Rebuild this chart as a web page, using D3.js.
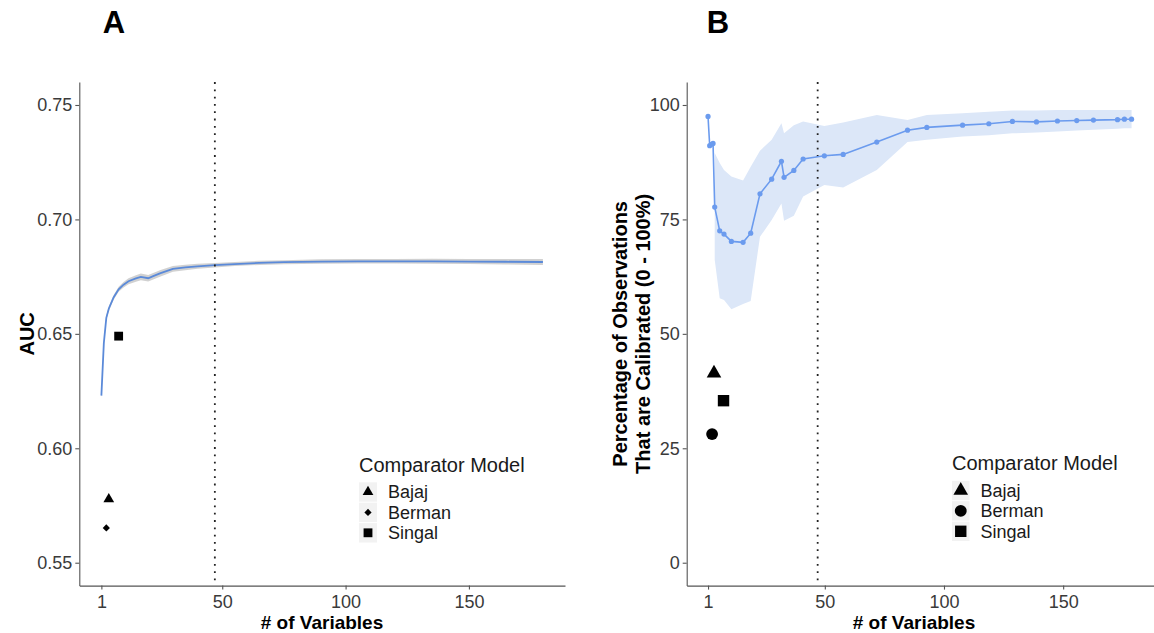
<!DOCTYPE html>
<html>
<head>
<meta charset="utf-8">
<script src="https://cdnjs.cloudflare.com/ajax/libs/d3/7.8.5/d3.min.js"></script>
<style>
	body { margin: 0; background: #ffffff; }
	text { font-family: 'Liberation Sans', Arial, sans-serif; }
</style>
</head>
<body>
<div id="chartContainer"></div>
<script>
// Panel A: AUC by number of variables
var auc_x = [1, 2, 3, 4, 6, 8, 10, 12, 15, 17, 20, 22, 25, 30, 35, 40, 47, 55, 65, 75, 90, 105, 120, 135, 150, 165, 180];
var auc_mean = [0.623, 0.646, 0.657, 0.661, 0.666, 0.6695, 0.6715, 0.673, 0.6742, 0.6749, 0.6743, 0.6752, 0.6765, 0.6784, 0.679, 0.6795, 0.68, 0.6805, 0.681, 0.6813, 0.6816, 0.6817, 0.6817, 0.6817, 0.6816, 0.6815, 0.6814];
var auc_lower = [0.622, 0.645, 0.656, 0.660, 0.665, 0.6684, 0.6703, 0.6717, 0.6728, 0.6734, 0.6729, 0.6738, 0.6751, 0.6771, 0.6778, 0.6784, 0.679, 0.6796, 0.6801, 0.6804, 0.6806, 0.6807, 0.6807, 0.6806, 0.6805, 0.6803, 0.6801];
var auc_upper = [0.624, 0.647, 0.658, 0.662, 0.667, 0.6706, 0.6727, 0.6743, 0.6756, 0.6764, 0.6757, 0.6766, 0.6779, 0.6797, 0.6802, 0.6806, 0.681, 0.6814, 0.6819, 0.6822, 0.6826, 0.6827, 0.6827, 0.6828, 0.6827, 0.6827, 0.6827];

// Panel B: calibrated percentage by number of variables
var cal_x = [1, 1.7, 2.4, 3.1, 3.8, 5.9, 7.7, 10.8, 15.7, 18.9, 22.8, 27.7, 31.8, 32.9, 37, 40.9, 49.8, 57.7, 71.8, 84.7, 92.8, 107.8, 118.8, 128.7, 138.8, 147.6, 155.7, 162.7, 172.8, 175.7, 178.7];
var cal_mean = [97.5, 91.1, 91.4, 91.6, 77.7, 72.5, 71.8, 70.2, 70.0, 72.0, 80.6, 83.8, 87.7, 84.2, 85.7, 88.2, 88.9, 89.2, 91.9, 94.5, 95.1, 95.6, 95.9, 96.4, 96.3, 96.5, 96.6, 96.7, 96.8, 96.9, 96.9];
var cal_lower = [null, null, null, null, 66.2, 57.8, 57.4, 55.4, 56.5, 57.2, 71.2, 74.9, 78.5, 74.7, 75.8, 80.0, 82.5, 82.0, 85.8, 91.9, 92.4, 93.1, 93.4, 93.8, 94.0, 94.2, 94.4, 94.6, 94.8, 94.9, 94.9];
var cal_upper = [null, null, null, null, 89.5, 87.3, 85.8, 84.4, 83.5, 86.5, 90.0, 92.4, 96.0, 93.8, 95.6, 96.4, 95.4, 96.2, 97.8, 96.7, 97.8, 98.2, 98.5, 98.8, 98.8, 98.9, 98.9, 98.9, 98.9, 98.9, 98.9];

// Comparator models
var comp_names = ['Bajaj', 'Berman', 'Singal'];
var comp_auc_x = [4, 3, 8];
var comp_auc = [0.5778, 0.5652, 0.6490];
var comp_cal_x = [3.5, 2.7, 7.5];
var comp_cal = [41.4, 28.1, 35.4];

var cutoff = 47;
var x_ticks = [1, 50, 100, 150];
var auc_ticks = [0.55, 0.60, 0.65, 0.70, 0.75];
var cal_ticks = [0, 25, 50, 75, 100];

var total_width = 1154;
var total_height = 633;
var plot_top = 82.1;
var plot_bottom = 585.6;

var svg = d3.select('#chartContainer')
	.append('svg')
	.attr('width', total_width)
	.attr('height', total_height);

svg.append('rect')
	.attr('width', total_width)
	.attr('height', total_height)
	.attr('fill', '#ffffff');

// Scales (ggplot style 5% expansion around 1..180)
var x_a = d3.scaleLinear().domain([-7.95, 188.95]).range([79.3, 565]);
var y_a = d3.scaleLinear().domain([0.54, 0.76]).range([plot_bottom, plot_top]);
var x_b = d3.scaleLinear().domain([-7.95, 188.95]).range([686.7, 1156]);
var y_b = d3.scaleLinear().domain([-5, 105]).range([plot_bottom, plot_top]);

function draw_axes(x_scale, y_scale, y_ticks, y_format) {
	var gx = svg.append('g')
		.attr('transform', 'translate(0,' + plot_bottom + ')')
		.call(d3.axisBottom(x_scale).tickValues(x_ticks).tickSize(4).tickSizeOuter(0).tickPadding(6));
	var gy = svg.append('g')
		.attr('transform', 'translate(' + x_scale.range()[0] + ',0)')
		.call(d3.axisLeft(y_scale).tickValues(y_ticks).tickFormat(y_format).tickSize(4).tickSizeOuter(0).tickPadding(3));
	[gx, gy].forEach(function(g) {
		g.select('.domain').attr('stroke', '#555555').attr('stroke-width', 1.1);
		g.selectAll('.tick line').attr('stroke', '#555555').attr('stroke-width', 1.1);
		g.selectAll('.tick text')
			.attr('fill', '#3a3a3a')
			.attr('font-size', '18px')
			.attr('font-family', "'Liberation Sans', Arial, sans-serif");
	});
}

function draw_cutoff(x_scale) {
	svg.append('line')
		.attr('x1', x_scale(cutoff))
		.attr('x2', x_scale(cutoff))
		.attr('y1', plot_top)
		.attr('y2', plot_bottom)
		.attr('stroke', '#222222')
		.attr('stroke-width', 1.8)
		.attr('stroke-dasharray', '1.8,5.5');
}

function symbol_path(name, panel) {
	var i = comp_names.indexOf(name);
	if (panel == 'A') {
		if (i == 0) return d3.symbol(d3.symbolTriangle, 50)();
		if (i == 1) return d3.symbol(d3.symbolSquare, 26)();
		return d3.symbol(d3.symbolSquare, 78)();
	} else {
		if (i == 0) return d3.symbol(d3.symbolTriangle, 92)();
		if (i == 1) return d3.symbol(d3.symbolCircle, 110)();
		return d3.symbol(d3.symbolSquare, 130)();
	}
}

function symbol_rotate(name, panel) {
	return (panel == 'A' && name == 'Berman') ? ' rotate(45)' : '';
}

function draw_legend(x0, title_y, row_h, key_w, panel) {
	var lg = svg.append('g');
	lg.append('text')
		.attr('x', x0)
		.attr('y', title_y)
		.attr('font-size', '20px')
		.attr('fill', '#1a1a1a')
		.text('Comparator Model');
	var first = title_y + 20.5;
	lg.selectAll('.keyrect')
		.data(comp_names)
		.enter()
		.append('rect')
		.attr('x', x0)
		.attr('y', function(d, i) { return first + i * row_h - row_h / 2 + 0.5; })
		.attr('width', key_w)
		.attr('height', row_h - 1)
		.attr('fill', '#f2f2f2');
	lg.selectAll('.keysym')
		.data(comp_names)
		.enter()
		.append('path')
		.attr('d', function(d) { return symbol_path(d, panel); })
		.attr('transform', function(d, i) {
			return 'translate(' + (x0 + key_w / 2) + ',' + (first + i * row_h) + ')' + symbol_rotate(d, panel);
		})
		.attr('fill', '#000000');
	lg.selectAll('.keytext')
		.data(comp_names)
		.enter()
		.append('text')
		.attr('x', x0 + key_w + 11)
		.attr('y', function(d, i) { return first + i * row_h; })
		.attr('dy', '0.36em')
		.attr('font-size', '18px')
		.attr('fill', '#1a1a1a')
		.text(function(d) { return d; });
}

/***********************************************************
  Panel A
***********************************************************/
var auc_rows = auc_x.map(function(x, i) {
	return { x: x, m: auc_mean[i], lo: auc_lower[i], hi: auc_upper[i] };
});

svg.append('path')
	.datum(auc_rows)
	.attr('d', d3.area()
		.x(function(d) { return x_a(d.x); })
		.y0(function(d) { return y_a(d.lo); })
		.y1(function(d) { return y_a(d.hi); }))
	.attr('fill', '#c9c9c9')
	.attr('opacity', 0.85);

svg.append('path')
	.datum(auc_rows)
	.attr('d', d3.line()
		.x(function(d) { return x_a(d.x); })
		.y(function(d) { return y_a(d.m); }))
	.attr('fill', 'none')
	.attr('stroke', '#5b8ad9')
	.attr('stroke-width', 1.8);

draw_cutoff(x_a);

svg.selectAll('.compA')
	.data(comp_names)
	.enter()
	.append('path')
	.attr('d', function(d) { return symbol_path(d, 'A'); })
	.attr('transform', function(d, i) {
		return 'translate(' + x_a(comp_auc_x[i]) + ',' + y_a(comp_auc[i]) + ')' + symbol_rotate(d, 'A');
	})
	.attr('fill', '#000000');

draw_axes(x_a, y_a, auc_ticks, d3.format('.2f'));
draw_legend(359, 471.5, 20.4, 18, 'A');

/***********************************************************
  Panel B
***********************************************************/
var cal_rows = cal_x.map(function(x, i) {
	return { x: x, m: cal_mean[i], lo: cal_lower[i], hi: cal_upper[i] };
});

svg.append('path')
	.datum(cal_rows)
	.attr('d', d3.area()
		.defined(function(d) { return d.lo != null; })
		.x(function(d) { return x_b(d.x); })
		.y0(function(d) { return y_b(d.lo); })
		.y1(function(d) { return y_b(d.hi); }))
	.attr('fill', '#dce7f8');

draw_cutoff(x_b);

svg.append('path')
	.datum(cal_rows)
	.attr('d', d3.line()
		.x(function(d) { return x_b(d.x); })
		.y(function(d) { return y_b(d.m); }))
	.attr('fill', 'none')
	.attr('stroke', '#6b9bee')
	.attr('stroke-width', 1.6);

svg.selectAll('.calpoint')
	.data(cal_rows)
	.enter()
	.append('circle')
	.attr('cx', function(d) { return x_b(d.x); })
	.attr('cy', function(d) { return y_b(d.m); })
	.attr('r', 2.6)
	.attr('fill', '#6b9bee');

svg.selectAll('.compB')
	.data(comp_names)
	.enter()
	.append('path')
	.attr('d', function(d) { return symbol_path(d, 'B'); })
	.attr('transform', function(d, i) {
		return 'translate(' + x_b(comp_cal_x[i]) + ',' + y_b(comp_cal[i]) + ')';
	})
	.attr('fill', '#000000');

draw_axes(x_b, y_b, cal_ticks, d3.format('d'));
draw_legend(952, 470, 20.4, 17.5, 'B');

/***********************************************************
  Titles
***********************************************************/
svg.append('text')
	.attr('x', 322)
	.attr('y', 629)
	.attr('text-anchor', 'middle')
	.attr('font-size', '19px')
	.attr('font-weight', 'bold')
	.text('# of Variables');

svg.append('text')
	.attr('x', 914)
	.attr('y', 629)
	.attr('text-anchor', 'middle')
	.attr('font-size', '19px')
	.attr('font-weight', 'bold')
	.text('# of Variables');

svg.append('text')
	.attr('transform', 'translate(34,' + ((plot_top + plot_bottom) / 2) + ') rotate(-90)')
	.attr('text-anchor', 'middle')
	.attr('font-size', '20px')
	.attr('font-weight', 'bold')
	.text('AUC');

svg.append('text')
	.attr('transform', 'translate(627,' + ((plot_top + plot_bottom) / 2) + ') rotate(-90)')
	.attr('text-anchor', 'middle')
	.attr('font-size', '20px')
	.attr('font-weight', 'bold')
	.text('Percentage of Observations');

svg.append('text')
	.attr('transform', 'translate(650,' + ((plot_top + plot_bottom) / 2) + ') rotate(-90)')
	.attr('text-anchor', 'middle')
	.attr('font-size', '20px')
	.attr('font-weight', 'bold')
	.text('That are Calibrated (0 - 100%)');

// Panel tags
svg.append('text')
	.attr('x', 114)
	.attr('y', 32.5)
	.attr('text-anchor', 'middle')
	.attr('font-size', '31px')
	.attr('font-weight', 'bold')
	.text('A');

svg.append('text')
	.attr('x', 718)
	.attr('y', 32.5)
	.attr('text-anchor', 'middle')
	.attr('font-size', '31px')
	.attr('font-weight', 'bold')
	.text('B');
</script>
</body>
</html>
